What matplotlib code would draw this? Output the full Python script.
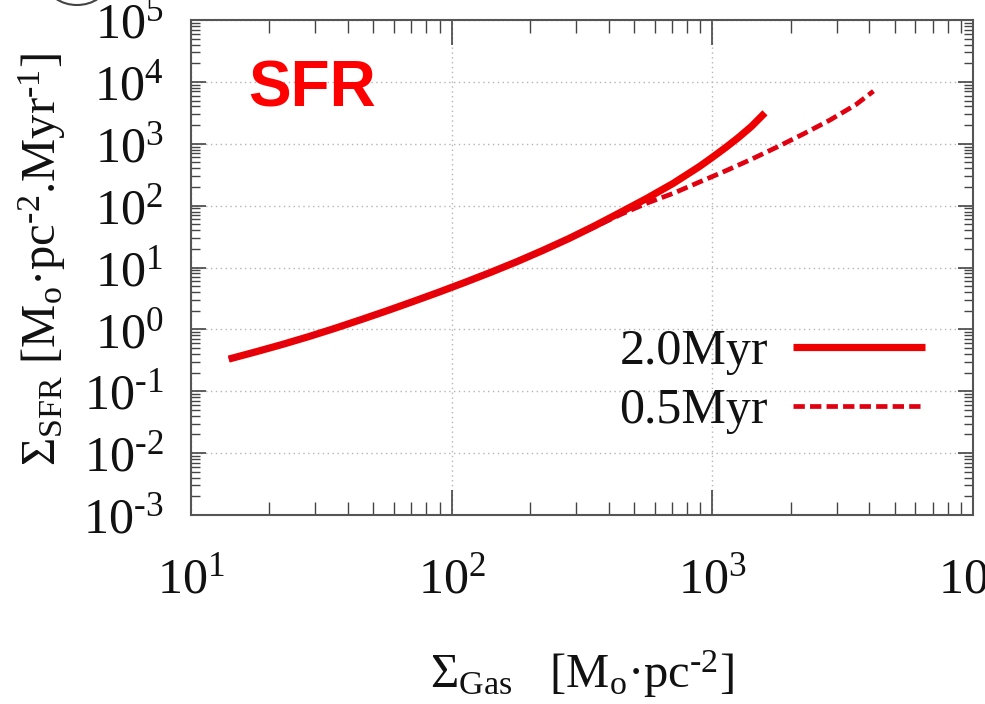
import matplotlib
matplotlib.use("Agg")
import matplotlib.pyplot as plt
from matplotlib.ticker import LogLocator, NullFormatter, FuncFormatter
from matplotlib.patches import Ellipse
import numpy as np

# ---- data ----
gas_2myr = [13.96, 17.78, 22.39, 28.18, 35.48, 44.67, 56.23, 70.79, 89.13, 112.2, 141.3,
            177.8, 223.9, 281.8, 354.8, 446.7, 562.3, 707.9, 891.3, 1000, 1122, 1259, 1413, 1592]
sfr_2myr = [0.331, 0.435, 0.570, 0.760, 1.033, 1.426, 1.986, 2.80, 3.98, 5.73, 8.36,
            12.4, 18.9, 29.4, 47.4, 78.7, 132, 229, 427, 603, 861, 1259, 1905, 3162]

gas_05myr = [13.96, 17.78, 22.39, 28.18, 35.48, 44.67, 56.23, 70.79, 89.13, 112.2, 141.3,
             177.8, 223.9, 281.8, 354.8, 446.7, 562.3, 707.9, 891.3, 1122, 1413, 1778,
             2239, 2818, 3548, 4150]
sfr_05myr = [0.331, 0.435, 0.570, 0.760, 1.033, 1.426, 1.986, 2.80, 3.98, 5.73, 8.36,
             12.4, 18.9, 29.4, 45.7, 72.4, 110, 158, 240, 363, 562, 891,
             1445, 2399, 4266, 7079]

labels = ["2.0Myr", "0.5Myr"]
panel_title = "SFR"
HY = "\u2010"  # typographic hyphen, as in the original exponents
xlabel = "Σ$_{\\rm Gas}$   [M$_{\\rm o}$·pc$^{\\rm " + HY + "2}$]"
ylabel = "Σ$_{\\rm SFR}$ [M$_{\\rm o}$·pc$^{\\rm " + HY + "2}$.Myr$^{\\rm " + HY + "1}$]"

plt.rcParams['font.family'] = ['Liberation Serif', 'DejaVu Serif']
plt.rcParams['mathtext.fontset'] = 'custom'
plt.rcParams['mathtext.rm'] = 'Liberation Serif'
plt.rcParams['mathtext.it'] = 'Liberation Serif:italic'
plt.rcParams['mathtext.bf'] = 'Liberation Serif:bold'
plt.rcParams['axes.unicode_minus'] = False

W, H = 985, 704
fig = plt.figure(figsize=(W / 100, H / 100), dpi=100)
ax = fig.add_axes([191 / W, 1 - 515 / H, (973 - 191) / W, (515 - 20) / H])

ax.set_xscale('log')
ax.set_yscale('log')
ax.set_xlim(10, 1e4)
ax.set_ylim(1e-3, 1e5)

ax.plot(gas_2myr, sfr_2myr, color='#ee0000', lw=5.2, solid_capstyle='butt',
        solid_joinstyle='round', label=labels[0])
ax.plot(gas_05myr, sfr_05myr, color='#e00010', lw=3.4, dashes=(2.4, 1.1), label=labels[1])


def pow_fmt(v, pos):
    e = int(round(np.log10(v)))
    es = (HY + str(-e)) if e < 0 else str(e)
    return "$\\mathdefault{10^{" + es + "}}$"


ax.xaxis.set_major_locator(LogLocator(base=10, numticks=20))
ax.yaxis.set_major_locator(LogLocator(base=10, numticks=20))
ax.xaxis.set_major_formatter(FuncFormatter(pow_fmt))
ax.yaxis.set_major_formatter(FuncFormatter(pow_fmt))
ax.xaxis.set_minor_locator(LogLocator(base=10, subs=range(2, 10), numticks=200))
ax.yaxis.set_minor_locator(LogLocator(base=10, subs=range(2, 10), numticks=200))
ax.xaxis.set_minor_formatter(NullFormatter())
ax.yaxis.set_minor_formatter(NullFormatter())

ax.grid(True, which='major', linestyle=(0, (1, 2.5)), color='#b5b5b5', lw=1.0)

ax.tick_params(axis='both', which='both', direction='in', top=True, right=True,
               colors='#444444', labelcolor='#111111')
ax.tick_params(axis='x', which='major', length=18, width=1.2, labelsize=36, pad=30)
ax.tick_params(axis='x', which='minor', length=9.5, width=1.0)
ax.tick_params(axis='y', which='major', length=11, width=1.2, labelsize=36, pad=20)
ax.tick_params(axis='y', which='minor', length=6.5, width=1.0)
for s in ax.spines.values():
    s.set_color('#555555')
    s.set_linewidth(1.5)

ax.set_xlabel(xlabel, fontsize=35, color='#111111')
ax.set_ylabel(ylabel, fontsize=35, color='#111111')
ax.xaxis.set_label_coords(0.5, -0.27)
ax.yaxis.set_label_coords(-0.157, 0.515)

ax.text(0.073, 0.86, panel_title, transform=ax.transAxes, color='#ff0000',
        fontsize=46, fontweight='bold', family=['Liberation Sans', 'DejaVu Sans'],
        ha='left', va='center')

leg = ax.legend(loc='center right', bbox_to_anchor=(0.9386, 0.27), frameon=False,
                markerfirst=False, fontsize=36, handlelength=2.64, handletextpad=0.5,
                labelspacing=0.25, borderpad=0.0, borderaxespad=0.0)
for t in leg.get_texts():
    t.set_color('#111111')

# cropped round mark at the very top-left of the original picture
fig.patches.append(Ellipse((77 / W, (H + 17) / H), 60 / W, 44 / H, transform=fig.transFigure,
                           facecolor='white', edgecolor='#444444', lw=1.5))

fig.savefig('out.png', dpi=100)
